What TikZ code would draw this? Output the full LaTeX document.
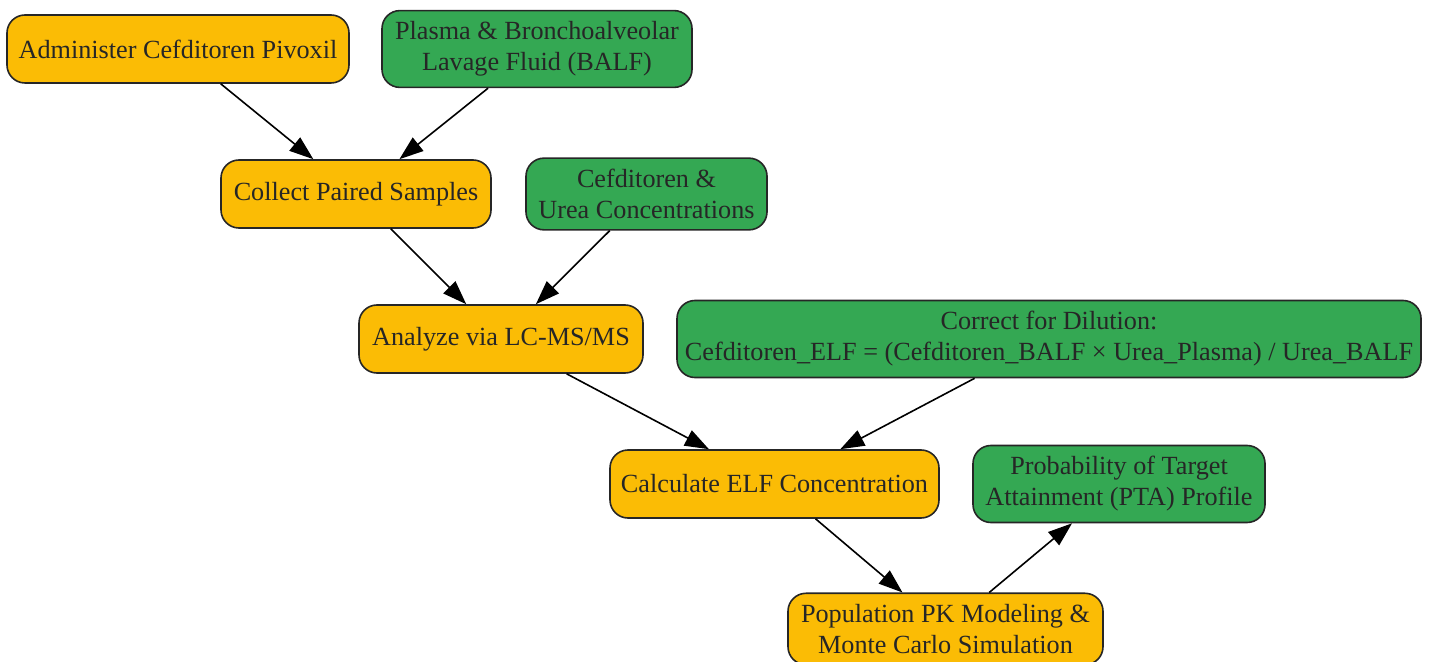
\documentclass[tikz,border=0pt]{standalone}
\usepackage{fontspec}
\setmainfont{Liberation Serif}
\usepackage{tikz}
\usetikzlibrary{positioning, arrows.meta}
\definecolor{stepyellow}{HTML}{FBBC05}
\definecolor{datagreen}{HTML}{34A853}
\definecolor{inkgray}{HTML}{262626}
\tikzset{every picture/.style={line width=0.8pt}}

\begin{document}
\begin{tikzpicture}[-{Triangle[length=12pt,width=8.5pt]}, on grid, align=center,
        every node/.style={draw=inkgray, text=inkgray, rounded corners=9pt, inner xsep=3pt, inner ysep=5.5pt,
            minimum height=34pt, font=\fontsize{13.1}{15.5}\selectfont},
        stepbox/.style={fill=stepyellow},
        databox/.style={fill=datagreen}]
        \useasboundingbox (0,0) rectangle (716.5pt,-331pt);
        \node[stepbox, minimum width=171pt] (admin) at (89pt,-24.5pt) {Administer Cefditoren Pivoxil};
        \node[databox, minimum width=155pt, right=179.5pt of admin] (balf) {Plasma \& Bronchoalveolar\\Lavage Fluid (BALF)};
        \node[stepbox, minimum width=135pt, below right=72.5pt and 89pt of admin] (collect) {Collect Paired Samples};
        \node[databox, minimum width=120.5pt, right=145.25pt of collect] (conc) {Cefditoren \&\\Urea Concentrations};
        \node[stepbox, minimum width=142pt, below right=72.5pt and 72.5pt of collect] (analyze) {Analyze via LC-MS/MS};
        \node[databox, minimum width=372pt, right=274pt of analyze] (dilution) {Correct for Dilution:\\Cefditoren\_ELF = (Cefditoren\_BALF × Urea\_Plasma) / Urea\_BALF};
        \node[stepbox, minimum width=164.5pt, below right=72.5pt and 136.75pt of analyze] (calc) {Calculate ELF Concentration};
        \node[databox, minimum width=146pt, right=172.25pt of calc] (pta) {Probability of Target\\Attainment (PTA) Profile};
        \node[stepbox, minimum width=157.5pt, below right=72.5pt and 85.5pt of calc] (popk) {Population PK Modeling \&\\Monte Carlo Simulation};

        \draw
            (admin) edge (collect)
            (balf) edge (collect)
            (collect) edge (analyze)
            (conc) edge (analyze)
            (analyze) edge (calc)
            (dilution) edge (calc)
            (calc) edge (popk)
            (popk) edge (pta)
            ;
    \end{tikzpicture}
\end{document}
